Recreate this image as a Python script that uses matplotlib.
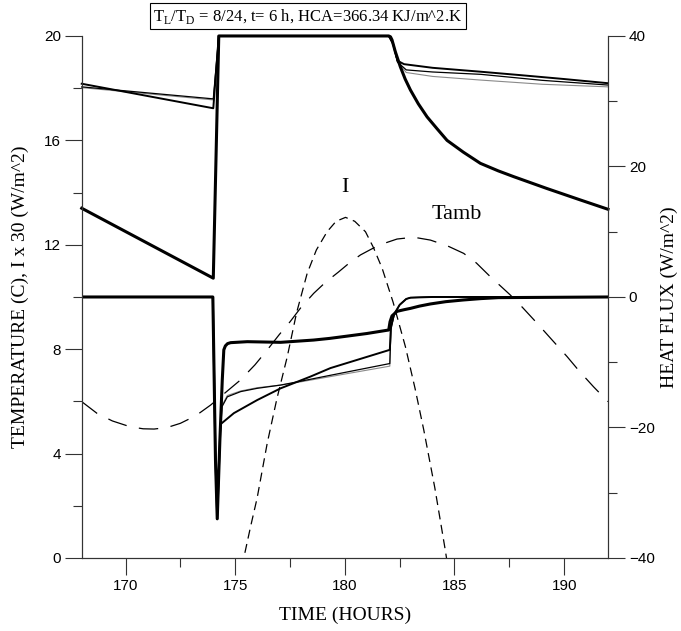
import matplotlib
matplotlib.use("Agg")
import matplotlib.pyplot as plt
from matplotlib.ticker import MultipleLocator

plt.rcParams['lines.scale_dashes'] = False

# ---- temperatures (left axis) ----
t_thick_up = [168, 174.0, 174.25, 182.0, 182.08, 182.15, 182.3, 182.53, 182.75, 182.99,
              183.35, 183.75, 184.2, 184.66, 185.4, 186.18, 187.0, 187.7, 188.5,
              189.2, 190.0, 190.73, 191.4, 192]
T_thick_up = [13.4, 10.72, 20, 20, 19.97, 19.85, 19.4, 18.82, 18.35, 17.93,
              17.4, 16.9, 16.45, 16.0, 15.55, 15.12, 14.83, 14.61, 14.37,
              14.16, 13.93, 13.72, 13.53, 13.36]

t_med_up = [168, 174.0, 174.25, 182.0, 182.2, 182.4, 182.7, 184.0, 186.2, 188.0, 190.0, 192]
T_med_up = [18.17, 17.23, 20, 20, 19.7, 19.05, 18.92, 18.78, 18.63, 18.5, 18.35, 18.19]

t_thin_up = [168, 174.0, 174.25, 182.0, 182.2, 182.4, 182.8, 184.0, 186.2, 189.0, 192]
T_thin_up = [18.05, 17.59, 20, 20, 19.7, 19.0, 18.7, 18.62, 18.53, 18.3, 18.12]

t_gray_up = [168, 174.0, 174.25, 182.0, 182.2, 182.4, 182.8, 184.0, 186.2, 189.0, 192]
T_gray_up = [18.02, 17.55, 20, 20, 19.7, 19.0, 18.6, 18.45, 18.31, 18.15, 18.05]

# solar radiation I (scaled 1/30) and ambient temperature
t_I = [175.2, 175.39, 175.7, 176.0, 176.46, 176.9, 177.37, 177.8, 178.28, 178.7,
       179.19, 179.6, 180.03, 180.45, 180.94, 181.3, 181.7, 182.2, 182.76, 183.2,
       183.6, 184.1, 184.58, 184.8]
I_30 = [-0.9, 0, 1.2, 2.3, 4.4, 6.1, 7.7, 9.4, 10.9, 11.8,
        12.5, 12.9, 13.05, 12.9, 12.5, 11.9, 11.1, 9.8, 8.1, 6.5,
        4.9, 2.7, 0.3, -0.9]

t_amb = [168, 168.7, 169.4, 170.2, 170.8, 171.3, 171.9, 172.5, 173.2, 173.88,
         174.5, 175.24, 175.9, 176.46, 177.0, 177.5, 178.0, 178.58, 179.1, 179.7,
         180.2, 180.71, 181.2, 181.6, 182.38, 183.14, 183.9, 184.7, 185.42, 186.0,
         186.63, 187.1, 187.54, 188.1, 188.76, 189.4, 190.13, 190.7, 191.34, 192]
T_amb = [5.99, 5.54, 5.25, 5.03, 4.95, 4.94, 5.0, 5.16, 5.45, 5.86,
         6.3, 6.82, 7.4, 7.97, 8.55, 9.05, 9.6, 10.14, 10.55, 10.95,
         11.3, 11.61, 11.83, 12.0, 12.22, 12.29, 12.18, 11.95, 11.67, 11.3,
         10.78, 10.42, 10.08, 9.6, 9.0, 8.4, 7.72, 7.15, 6.56, 5.99]

# ---- heat flux (right axis) ----
t_q_thick = [168, 173.98, 174.1, 174.18, 174.3, 174.41, 174.48, 174.55, 174.65, 174.79,
             175.55, 177.07, 178.58, 179.3, 180.1, 181.0, 182.0, 182.06, 182.15, 182.38,
             182.7, 183.0, 183.4, 183.9, 184.6, 185.4, 186.2, 187.0, 192]
q_thick = [0, 0, -25, -34, -22, -12.7, -8.1, -7.5, -7.15, -7.0,
           -6.85, -6.95, -6.6, -6.35, -6.0, -5.6, -5.06, -3.8, -2.9, -2.2,
           -1.95, -1.74, -1.4, -1.07, -0.72, -0.46, -0.25, -0.1, 0]

t_q_med = [168, 173.98, 174.1, 174.18, 174.26, 174.33, 174.94, 176.0, 177.07, 178.43,
           179.34, 182.05, 182.1, 182.25, 182.5, 182.8, 183.0, 184.0, 192]
q_med = [0, 0, -25, -34, -26, -19.5, -17.8, -15.8, -14.0, -12.2,
         -10.9, -8.1, -4.5, -2.6, -1.2, -0.3, -0.1, 0, 0]

t_q_thin = [168, 173.98, 174.1, 174.18, 174.3, 174.4, 174.64, 175.25, 176.0, 177.07,
            178.0, 179.34, 182.05, 182.1, 182.25, 182.5, 182.8, 183.0, 184.0, 192]
q_thin = [0, 0, -25, -33, -22, -16.8, -15.3, -14.5, -14.0, -13.5,
          -12.9, -12.0, -10.2, -5.0, -2.7, -1.2, -0.3, -0.1, 0, 0]

t_q_gray = [168, 173.98, 174.1, 174.18, 174.3, 174.4, 174.64, 175.25, 176.0, 177.07,
            178.0, 179.34, 182.05, 182.1, 182.25, 182.5, 182.8, 183.0, 184.0, 192]
q_gray = [0, 0, -25, -33, -22, -16.6, -15.1, -14.4, -13.9, -13.5,
          -13.0, -12.2, -10.6, -5.0, -2.7, -1.2, -0.3, -0.1, 0, 0]

serif = ['Liberation Serif', 'DejaVu Serif']
sans = ['Liberation Sans', 'DejaVu Sans']

fig = plt.figure(figsize=(6.81, 6.31), dpi=100)
ax = fig.add_axes([0.12, 0.1157, 0.7728, 0.8273])
ax2 = ax.twinx()

# upper temperature curves
ax.plot(t_gray_up, T_gray_up, color='#8a8a8a', lw=0.8, clip_on=False)
ax.plot(t_thin_up, T_thin_up, color='black', lw=0.9, clip_on=False)
ax.plot(t_med_up, T_med_up, color='black', lw=1.4, clip_on=False)
ax.plot(t_thick_up, T_thick_up, color='black', lw=2.2, clip_on=False)

# dashed I and Tamb
ax.plot(t_I, I_30, color='black', lw=0.9, dashes=(6.5, 4))
ax.plot(t_amb, T_amb, color='black', lw=0.9, dashes=(14, 9))

# heat flux curves
ax2.plot(t_q_gray, q_gray, color='#8a8a8a', lw=0.8)
ax2.plot(t_q_thin, q_thin, color='black', lw=0.9)
ax2.plot(t_q_med, q_med, color='black', lw=1.4)
ax2.plot(t_q_thick, q_thick, color='black', lw=2.2)

ax.set_xlim(168, 192)
ax.set_ylim(0, 20)
ax2.set_ylim(-40, 40)

ax.xaxis.set_major_locator(MultipleLocator(5))
ax.xaxis.set_minor_locator(MultipleLocator(2.5))
ax.yaxis.set_major_locator(MultipleLocator(4))
ax.yaxis.set_minor_locator(MultipleLocator(2))
ax2.yaxis.set_major_locator(MultipleLocator(20))
ax2.yaxis.set_minor_locator(MultipleLocator(10))

for a in (ax, ax2):
    a.tick_params(which='major', direction='out', length=12, width=0.8, pad=3,
                  labelsize=11, color='#333333')
    a.tick_params(which='minor', direction='out', length=6.5, width=0.8, color='#333333')
    for lab in a.get_xticklabels() + a.get_yticklabels():
        lab.set_family(sans)
    for s in a.spines.values():
        s.set_linewidth(0.8)
        s.set_color('#333333')
    a.spines['top'].set_visible(False)

ax.set_xlabel('TIME (HOURS)', family=serif, fontsize=14, labelpad=10)
ax.set_ylabel('TEMPERATURE (C), I x 30 (W/m^2)', family=serif, fontsize=14, labelpad=11)
ax2.set_ylabel('HEAT FLUX (W/m^2)', family=serif, fontsize=14, labelpad=4)

ax.text(180.0, 14.2, 'I', family=serif, fontsize=16, ha='center', va='center')
ax.text(185.1, 13.15, 'Tamb', family=serif, fontsize=16, ha='center', va='center')

fig.text(308 / 681, 1 - 16 / 631,
         r'T$_\mathregular{L}$/T$_\mathregular{D}$ = 8/24, t= 6 h, HCA=366.34 KJ/m^2.K',
         family=serif, fontsize=12, ha='center', va='center',
         bbox=dict(boxstyle='square,pad=0.2', facecolor='white', edgecolor='black', lw=0.8))

fig.savefig('out.png', dpi=100)
